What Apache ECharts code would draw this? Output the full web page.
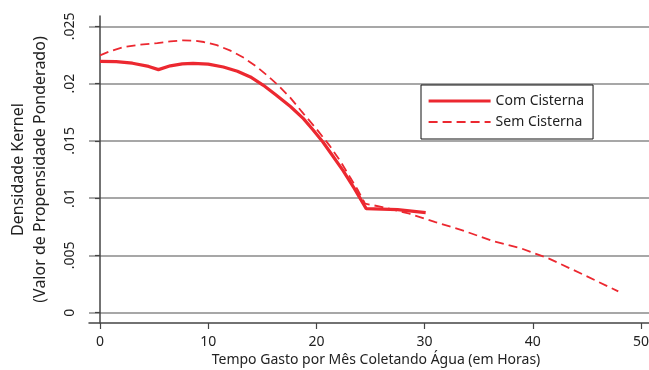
<!DOCTYPE html>
<html><head><meta charset="utf-8">
<script src="https://cdn.jsdelivr.net/npm/echarts@6/dist/echarts.min.js"></script>
<style>html,body{margin:0;padding:0;background:#fff}#c{width:649px;height:370px}</style>
</head><body><div id="c"></div>
<script>
const comX = [0, 1.5, 3, 4.5, 5.4, 6.5, 7.6, 8.6, 10, 11.4, 12.7, 13.9, 15.1, 16.3, 17.6, 18.8, 19.7, 20.6, 21.5, 22.45, 23.5, 24.6, 27.5, 30.1];
const comY = [0.02194, 0.02192, 0.02178, 0.02150, 0.02122, 0.02155, 0.02172, 0.02177, 0.02170, 0.02145, 0.02108, 0.02058, 0.01985, 0.01898, 0.01800, 0.01694, 0.01595, 0.01490, 0.01370, 0.01243, 0.01085, 0.00908, 0.00900, 0.00873];
const semX = [0, 1, 2.2, 3.7, 5.3, 6.5, 7.7, 8.7, 9.6, 10.8, 12.0, 13.3, 14.5, 15.4, 16.3, 17.6, 18.8, 20.0, 21.2, 22.2, 23.1, 23.8, 24.5, 26.1, 28.6, 31.0, 33.5, 36.3, 39.0, 41.5, 44.5, 47.9];
const semY = [0.02247, 0.02285, 0.02319, 0.02340, 0.02354, 0.02368, 0.02378, 0.02375, 0.02363, 0.02335, 0.02290, 0.02225, 0.02145, 0.02075, 0.02000, 0.01875, 0.01738, 0.01605, 0.01461, 0.01325, 0.01184, 0.01075, 0.00952, 0.00922, 0.00864, 0.00791, 0.00719, 0.00625, 0.00559, 0.00472, 0.00340, 0.00186];
const xTicks = [0, 10, 20, 30, 40, 50];
const yTicks = [0, 0.005, 0.01, 0.015, 0.02, 0.025];
const seriesNames = ['Com Cisterna', 'Sem Cisterna'];
const xTitle = 'Tempo Gasto por Mês Coletando Água (em Horas)';
const yTitle = 'Densidade Kernel\n(Valor de Propensidade Ponderado)';

const RED = '#ec2830';
const FONT = 'Noto Sans';
const chart = echarts.init(document.getElementById('c'), null, {renderer: 'canvas'});
const pairs = (xs, ys) => xs.map((x, i) => [x, ys[i]]);
chart.setOption({
  animation: false,
  textStyle: {fontFamily: FONT},
  grid: {left: 89, right: 0, top: 16, bottom: 47, outerBoundsMode: 'none', containLabel: false},
  xAxis: {
    type: 'value', min: -1.017, max: 50.74,
    name: xTitle, nameLocation: 'middle', nameGap: 30, nameMoveOverlap: false,
    nameTextStyle: {fontSize: 14, color: '#222', fontFamily: FONT, padding: [0, 0, 0, 14]},
    axisLine: {onZero: false, lineStyle: {color: '#444', width: 1.5}},
    axisTick: {customValues: xTicks, length: 6, lineStyle: {color: '#444', width: 1.2}},
    axisLabel: {customValues: xTicks, margin: 12, fontSize: 14, color: '#222', fontFamily: FONT},
    splitLine: {show: false}
  },
  yAxis: {
    type: 'value', min: -0.0009, max: 0.0259,
    name: yTitle, nameLocation: 'middle', nameGap: 38, nameRotate: 90, nameMoveOverlap: false,
    nameTextStyle: {fontSize: 16, color: '#222', lineHeight: 22, fontFamily: FONT},
    axisLine: {show: true, lineStyle: {color: '#444', width: 1.5}},
    axisTick: {show: true, customValues: yTicks, length: 5, lineStyle: {color: '#444', width: 1.2}},
    axisLabel: {customValues: yTicks, rotate: 90, margin: 12, fontSize: 14, color: '#222', fontFamily: FONT,
      formatter: v => v === 0 ? '0' : String(v).replace(/^0\./, '.')},
    splitLine: {show: true, lineStyle: {color: '#8a8a8a', width: 1.5}}
  },
  legend: {
    left: 421, top: 85, orient: 'vertical',
    backgroundColor: '#fff', borderColor: '#111', borderWidth: 1,
    padding: [9, 9, 10, 6], itemGap: 7, itemWidth: 62, itemHeight: 14,
    itemStyle: {color: 'transparent', borderColor: 'transparent', borderWidth: 0, opacity: 0},
    textStyle: {fontSize: 14, color: '#222', fontFamily: FONT},
    data: [
      {name: seriesNames[0], lineStyle: {width: 3.2}},
      {name: seriesNames[1], lineStyle: {width: 1.8}}
    ]
  },
  series: [
    {name: seriesNames[0], type: 'line', data: pairs(comX, comY), symbol: 'none', smooth: false,
      lineStyle: {color: RED, width: 3.2}, itemStyle: {color: RED}, z: 3},
    {name: seriesNames[1], type: 'line', data: pairs(semX, semY), symbol: 'none', smooth: false,
      lineStyle: {color: RED, width: 1.8, type: [9, 5]}, itemStyle: {color: RED}, z: 2}
  ]
});
</script></body></html>
